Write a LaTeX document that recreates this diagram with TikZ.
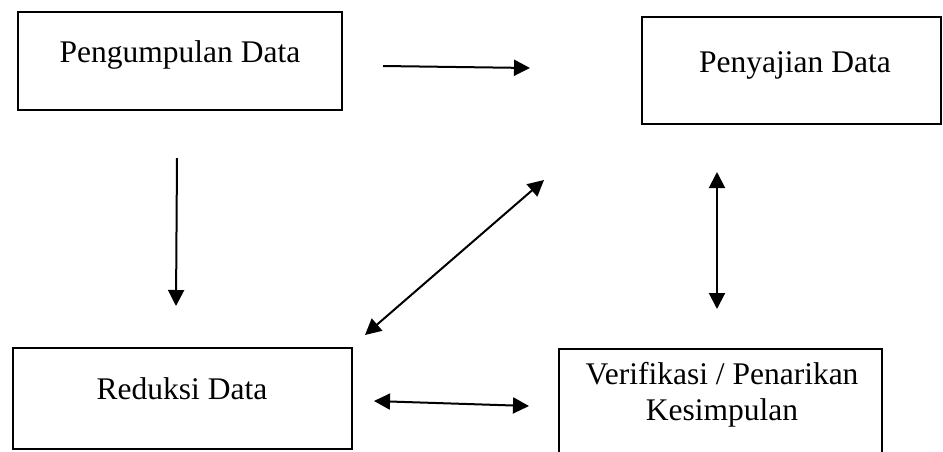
\documentclass[tikz,border=0pt]{standalone}
\usepackage{fontspec}
\setmainfont{Liberation Serif}
\usetikzlibrary{arrows.meta}
\begin{document}
\begin{tikzpicture}[x=1pt,y=-1pt,
  boxframe/.style={draw,line width=2pt,inner sep=0pt,outer sep=0pt},
  lbl/.style={anchor=base,inner sep=0pt,font=\fontsize{31.5}{36}\selectfont,align=center},
  conn/.style={line width=2pt,-{Triangle[length=16pt,width=16pt]}},
  dconn/.style={line width=2pt,{Triangle[length=16pt,width=16pt]}-{Triangle[length=16pt,width=16pt]}}]
\useasboundingbox[fill=white] (0,0) rectangle (943,451);
% boxes
\node[boxframe,minimum width=324pt,minimum height=98pt] (pbox) at (180,61) {};
\node[boxframe,minimum width=299pt,minimum height=107pt] (sbox) at (791.5,70.5) {};
\node[boxframe,minimum width=339pt,minimum height=101pt] (rbox) at (182.5,398.5) {};
\coordinate (vtl) at (559,349);
\coordinate (vtr) at (882,349);
\coordinate (vbl) at (559,455);
\coordinate (vbr) at (882,455);
\draw[line width=2pt] (vbl) -- (vtl) -- (vtr) -- (vbr);
% labels
\node[lbl] (ptext) at (180,62) {Pengumpulan Data};
\node[lbl] (stext) at (795,72) {Penyajian Data};
\node[lbl] (rtext) at (182,399) {Reduksi Data};
\node[lbl] (vtext) at (722,420) {Verifikasi / Penarikan\\Kesimpulan};
% arrow end points
\coordinate (a1s) at (383,66);
\coordinate (a1e) at (530,68);
\coordinate (a2s) at (177,158);
\coordinate (a2e) at (176,306);
\coordinate (a3s) at (717,172);
\coordinate (a3e) at (717,309);
\coordinate (a4s) at (374,401);
\coordinate (a4e) at (529,406);
\coordinate (a5s) at (365,335);
\coordinate (a5e) at (544,180);
\draw[conn] (a1s) -- (a1e);
\draw[conn] (a2s) -- (a2e);
\draw[dconn] (a3s) -- (a3e);
\draw[dconn] (a4s) -- (a4e);
\draw[dconn] (a5s) -- (a5e);
\end{tikzpicture}
\end{document}
